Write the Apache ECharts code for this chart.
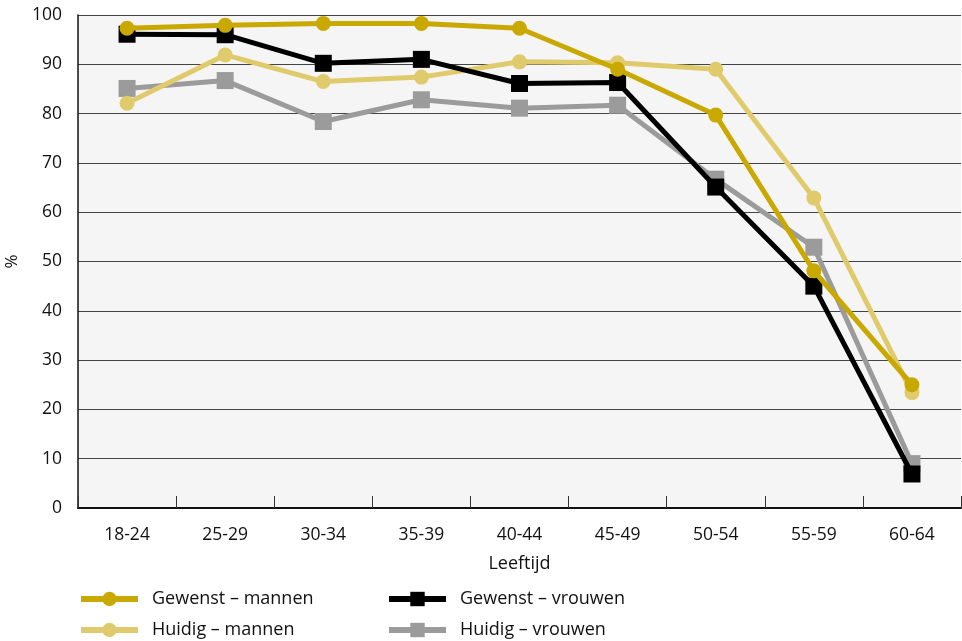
<!DOCTYPE html>
<html>
<head>
<meta charset="utf-8">
<script src="https://cdn.jsdelivr.net/npm/echarts@6/dist/echarts.min.js"></script>
<style>html,body{margin:0;padding:0;background:#fff}#c{width:962px;height:641px}</style>
</head>
<body>
<div id="c"></div>
<script>
const categories = ['18-24','25-29','30-34','35-39','40-44','45-49','50-54','55-59','60-64'];
const gewenstMannen  = [97.3, 97.9, 98.3, 98.3, 97.3, 89.0, 79.7, 48.1, 25.0];
const huidigMannen   = [82.1, 91.9, 86.5, 87.4, 90.5, 90.3, 89.0, 62.9, 23.4];
const gewenstVrouwen = [96.1, 96.0, 90.2, 91.0, 86.1, 86.3, 65.1, 45.0, 6.9];
const huidigVrouwen  = [85.1, 86.7, 78.4, 82.8, 81.1, 81.7, 66.7, 52.9, 9.0];
const yTicks = [0,10,20,30,40,50,60,70,80,90,100];

const FONT = '"Open Sans", "Noto Sans", sans-serif';
const chart = echarts.init(document.getElementById('c'), null, {renderer:'canvas'});

function mk(name, data, color, symbol, size, z){
  return {
    name, type:'line', data, symbol, symbolSize:size, z,
    lineStyle:{color, width:5},
    itemStyle:{color, borderWidth:0},
    emphasis:{disabled:true},
    animation:false
  };
}
const legendCommon = {
  orient:'vertical', padding:0, itemGap:13, itemWidth:57, itemHeight:18,
  lineStyle:{width:6}, selectedMode:false,
  textStyle:{fontFamily:FONT, fontSize:18, color:'#111', padding:[0,0,0,9]}
};

chart.setOption({
  animation:false,
  grid:{left:78, right:1, top:15, bottom:133, show:true, backgroundColor:'#f5f5f5', borderWidth:0,
        containLabel:false, outerBoundsMode:'none'},
  legend:[
    Object.assign({left:78, top:590, data:['Gewenst – mannen','Huidig – mannen']}, legendCommon),
    Object.assign({left:386, top:590, data:['Gewenst – vrouwen','Huidig – vrouwen']}, legendCommon)
  ],
  xAxis:{
    type:'category', data:categories, boundaryGap:true,
    name:'Leeftijd', nameLocation:'middle', nameGap:47,
    nameTextStyle:{fontFamily:FONT, fontSize:18, color:'#111'},
    axisLine:{lineStyle:{color:'#111', width:2}},
    axisTick:{show:true, inside:true, length:12, lineStyle:{color:'#333', width:1}},
    axisLabel:{fontFamily:FONT, fontSize:17.5, color:'#111', margin:18}
  },
  yAxis:{
    type:'value', min:yTicks[0], max:yTicks[yTicks.length-1], interval:10,
    name:'%', nameLocation:'middle', nameGap:56, nameRotate:90,
    nameTextStyle:{fontFamily:FONT, fontSize:17, color:'#111'},
    axisLine:{show:true, lineStyle:{color:'#111', width:1.5}},
    axisTick:{show:false},
    axisLabel:{fontFamily:FONT, fontSize:17.5, color:'#111', margin:16},
    splitLine:{show:true, lineStyle:{color:'#444', width:1.2}}
  },
  series:[
    mk('Huidig – vrouwen', huidigVrouwen, '#9b9b9b', 'rect', 17, 2),
    mk('Huidig – mannen', huidigMannen, '#e0cb6c', 'circle', 15, 3),
    mk('Gewenst – vrouwen', gewenstVrouwen, '#000000', 'rect', 17, 4),
    mk('Gewenst – mannen', gewenstMannen, '#c9a800', 'circle', 15, 5)
  ]
});
</script>
</body>
</html>
